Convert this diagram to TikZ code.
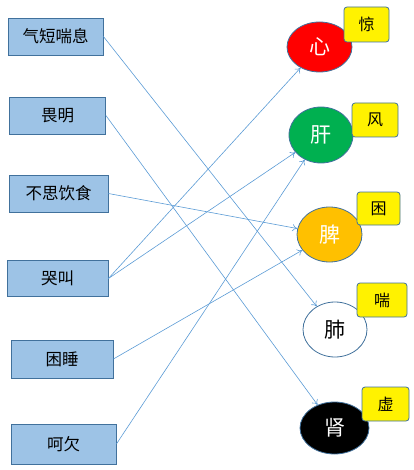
\documentclass[tikz,border=0pt]{standalone}
\usepackage{fontspec}
\setmainfont{Noto Sans CJK SC}
\usetikzlibrary{shapes.geometric,arrows.meta}
\definecolor{boxfill}{HTML}{9DC3E6}
\definecolor{boxline}{HTML}{41719C}
\definecolor{arrowc}{HTML}{5B9BD5}
\definecolor{organgreen}{HTML}{00B050}
\definecolor{organorange}{HTML}{FFC000}
\tikzset{
  symbox/.style={draw=boxline, fill=boxfill, line width=0.8pt, inner sep=0pt, font=\fontsize{16.5}{16.5}\selectfont},
  organ/.style={ellipse, draw=boxline, line width=0.8pt, inner sep=0pt, font=\fontsize{21}{21}\selectfont},
  tagbox/.style={draw=boxline, fill=yellow, rounded corners=3pt, line width=0.8pt, inner sep=0pt, font=\fontsize{16}{16}\selectfont},
  link/.style={draw=arrowc, line width=0.6pt, -{To[length=5pt,width=7pt]}}
}
\begin{document}
\begin{tikzpicture}[x=1pt,y=-1pt]
\useasboundingbox (0,0) rectangle (413,470);
% left boxes
\node[symbox, minimum width=95pt, minimum height=37pt] (a1) at (55.5,36.5) {气短喘息};
\node[symbox, minimum width=96pt, minimum height=37pt] (a2) at (57.5,115.5) {畏明};
\node[symbox, minimum width=99pt, minimum height=37pt] (a3) at (58.5,193.5) {不思饮食};
\node[symbox, minimum width=101pt, minimum height=36pt] (a4) at (57.5,278.5) {哭叫};
\node[symbox, minimum width=102pt, minimum height=38pt] (a5) at (62,359) {困睡};
\node[symbox, minimum width=105pt, minimum height=40pt] (a6) at (63.5,444) {呵欠};
% organs
\node[organ, fill=red, text=white, minimum width=65pt, minimum height=50pt] (xin) at (319.5,47) {心};
\node[organ, fill=organgreen, text=white, minimum width=64pt, minimum height=56pt] (gan) at (321,135) {肝};
\node[organ, fill=organorange, text=white, minimum width=65pt, minimum height=55pt] (pi) at (329.5,234.5) {脾};
\node[organ, fill=white, text=black, minimum width=64pt, minimum height=55pt] (fei) at (335,329.5) {肺};
\node[organ, fill=black, text=white, minimum width=69pt, minimum height=52pt] (shen) at (334.5,428) {肾};
% tags
\node[tagbox, minimum width=45pt, minimum height=35pt] (t1) at (366.5,24.5) {惊};
\node[tagbox, minimum width=46pt, minimum height=34pt] (t2) at (375,120) {风};
\node[tagbox, minimum width=43pt, minimum height=33pt] (t3) at (378.5,208.5) {困};
\node[tagbox, minimum width=50pt, minimum height=34pt] (t4) at (382,300) {喘};
\node[tagbox, minimum width=47pt, minimum height=34pt] (t5) at (385.5,404) {虚};
% links
\draw[link] (a1.east) -- (fei);
\draw[link] (a2.east) -- (shen);
\draw[link] (a3.east) -- (pi);
\draw[link] (a4.east) -- (xin);
\draw[link] (a4.east) -- (gan);
\draw[link] (a5.east) -- (pi);
\draw[link] (a6.east) -- (gan);
\end{tikzpicture}
\end{document}
